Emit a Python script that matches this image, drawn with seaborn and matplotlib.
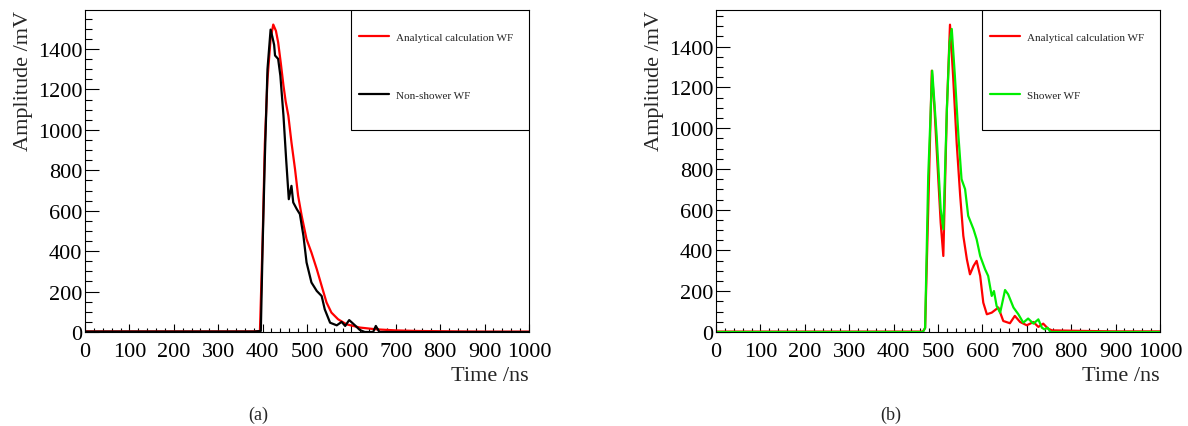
import seaborn as sns
import matplotlib.pyplot as plt
from matplotlib.patches import Rectangle
from matplotlib.ticker import MultipleLocator

# (a) analytical calculation vs non-shower waveform
t_calc_a = [0, 100, 200, 300, 380, 394, 400, 405, 411, 418, 424, 430, 435, 441, 447, 452,
            458, 465, 473, 480, 488, 499, 510, 522, 533, 544, 555, 570, 589, 619, 657,
            700, 750, 834, 900, 1000]
amp_calc_a = [3, 3, 3, 3, 3, 5, 450, 930, 1250, 1450, 1521, 1490, 1433, 1330, 1219, 1140,
              1070, 938, 806, 674, 575, 459, 393, 311, 228, 146, 96, 63, 38, 22, 13,
              8, 5, 3, 2, 2]

t_nonshower = [0, 100, 200, 300, 380, 396, 400, 405, 411, 418, 422, 426, 428, 435, 440, 447,
               453, 459, 465, 469, 477, 484, 492, 499, 510, 522, 533, 540, 552, 567, 578,
               586, 595, 608, 619, 630, 649, 655, 663, 700, 800, 1000]
amp_nonshower = [2, 2, 2, 2, 2, 5, 420, 855, 1300, 1496, 1460, 1420, 1368, 1351, 1268, 1070,
                 855, 657, 723, 641, 608, 583, 475, 344, 245, 203, 178, 112, 46, 33, 50,
                 30, 59, 33, 10, 0, 0, 30, 0, 0, 0, 0]

# (b) analytical calculation vs shower waveform
t_calc_b = [0, 100, 200, 300, 400, 466, 471, 478, 486, 492, 497, 506, 512, 520, 527, 534,
            542, 550, 557, 565, 572, 580, 587, 595, 602, 610, 621, 636, 647, 662, 673,
            685, 700, 715, 726, 737, 748, 757, 834, 900, 1000]
amp_calc_b = [2, 2, 2, 2, 2, 2, 20, 603, 1282, 1100, 897, 537, 373, 1094, 1508, 1257,
              930, 668, 472, 357, 283, 324, 349, 275, 144, 87, 95, 120, 54, 43, 79,
              49, 33, 49, 25, 41, 16, 8, 5, 3, 3]

t_shower = [0, 100, 200, 300, 400, 466, 471, 478, 487, 497, 506, 512, 520, 526, 531, 538,
            546, 553, 561, 568, 580, 587, 595, 606, 613, 621, 626, 632, 640, 651, 658,
            670, 681, 692, 703, 715, 726, 734, 740, 747, 753, 800, 900, 1000]
amp_shower = [0, 0, 0, 0, 0, 0, 20, 766, 1282, 963, 603, 504, 1094, 1421, 1487, 1257,
              963, 750, 701, 570, 504, 455, 373, 308, 275, 177, 201, 128, 95, 206, 185,
              120, 87, 46, 66, 41, 62, 21, 13, 21, 0, 0, 0, 0]

panels = [
    dict(curves=[(t_calc_a, amp_calc_a, "#ff0000", "Analytical calculation WF"),
                 (t_nonshower, amp_nonshower, "black", "Non-shower WF")],
         ymax=1593, left=85, caption="(a)", cap_x=258),
    dict(curves=[(t_calc_b, amp_calc_b, "#ff0000", "Analytical calculation WF"),
                 (t_shower, amp_shower, "#00ee00", "Shower WF")],
         ymax=1580, left=716, caption="(b)", cap_x=891),
]

sns.set_theme(style="white")
plt.rcParams["font.family"] = ["Liberation Serif", "DejaVu Serif"]

W, H = 1188, 427
fig = plt.figure(figsize=(W / 100, H / 100), dpi=100)

for p in panels:
    ax = fig.add_axes([p["left"] / W, (H - 333) / H, 444 / W, 322 / H])
    for t, a, c, lab in p["curves"]:
        sns.lineplot(x=t, y=a, ax=ax, color=c, linewidth=1.6, sort=False,
                     estimator=None, label=lab)

    ax.set_xlim(0, 1000)
    ax.set_ylim(0, p["ymax"])
    ax.xaxis.set_major_locator(MultipleLocator(100))
    ax.xaxis.set_minor_locator(MultipleLocator(20))
    ax.yaxis.set_major_locator(MultipleLocator(200))
    ax.yaxis.set_minor_locator(MultipleLocator(50))
    ax.tick_params(axis="both", which="both", direction="in", top=False, right=False,
                   bottom=True, left=True, labelsize=16, colors="black")
    ax.tick_params(axis="x", which="major", length=6, width=0.8, pad=7)
    ax.tick_params(axis="x", which="minor", length=3, width=0.8)
    ax.tick_params(axis="y", which="major", length=10, width=0.8, pad=2)
    ax.tick_params(axis="y", which="minor", length=5, width=0.8)
    for s in ax.spines.values():
        s.set_color("black")
        s.set_linewidth(0.8)

    ax.set_xlabel("Time /ns", fontsize=16, loc="right")
    ax.xaxis.label.set_va("baseline")
    ax.xaxis.set_label_coords(1.0, -0.149)
    ax.set_ylabel("Amplitude /mV", fontsize=16, loc="top")
    ax.yaxis.set_label_coords(-0.117, 1.0)

    # ROOT-style legend box
    ax.add_patch(Rectangle((0.6, 0.627), 0.4, 0.373, transform=ax.transAxes,
                           facecolor="white", edgecolor="black", lw=0.8, zorder=5))
    leg = ax.legend(loc="upper left", bbox_to_anchor=(0.616, 0.93), frameon=False,
                    fontsize=8, borderpad=0, borderaxespad=0, labelspacing=4.3,
                    handlelength=2.75, handletextpad=0.6)
    leg.set_zorder(6)

    fig.text(p["cap_x"] / W, (H - 415) / H, p["caption"], fontsize=13,
             ha="center", va="center")

fig.savefig("out.png", dpi=100)
